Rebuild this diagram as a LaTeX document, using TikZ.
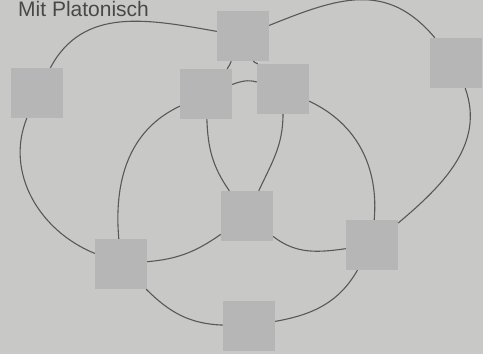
\documentclass[tikz,border=0pt]{standalone}
\usepackage{fontspec}
\setmainfont{Liberation Sans}
\usepackage{tikz}
\definecolor{pgBack}  {RGB}{200,201,199}
\definecolor{pgSquare}{RGB}{182,182,182}
\definecolor{pgLine}  {RGB}{ 88, 88, 88}
\definecolor{pgText}  {RGB}{ 72, 72, 72}

\begin{document}
\begin{tikzpicture}[
  x=1pt,y=1pt,
  every node/.style={font=\fontsize{21}{25}\selectfont},
  sq/.style={rectangle,fill=pgSquare,minimum width=52pt,minimum height=50pt,inner sep=0pt},
  ring/.style={line width=1.1pt,pgLine}
]
\useasboundingbox (0,0) rectangle (483,354);
\fill[pgBack] (0,0) rectangle (483,354);
\clip (0,0) rectangle (483,354);

\node[text=pgText,anchor=base west,inner sep=0pt] (title) at (18,337) {Mit Platonisch};

% squares
\node[sq] (top)  at (243,318) {};
\node[sq] (lft)  at ( 37,261) {};
\node[sq] (rgt)  at (456,291) {};
\node[sq] (inL)  at (206,260) {};
\node[sq] (inR)  at (283,265) {};
\node[sq] (mid)  at (247,138) {};
\node[sq] (botL) at (121, 90) {};
\node[sq] (botR) at (372,109) {};
\node[sq] (bot)  at (249, 28) {};

% left ring
\draw[ring] (lft) to[out=62,in=170,looseness=1.05] (top)
  to[out=-68,in=135] (inR)
  to[out=-90,in=65] (mid)
  to[out=215,in=5] (botL)
  to[out=158,in=-112] (lft);
% right ring
\draw[ring] (top) to[out=22,in=130,looseness=1.15] (rgt)
  to[out=-70,in=40] (botR)
  to[out=188,in=-38] (mid)
  to[out=125,in=-88] (inL)
  to[out=50,in=-115] (top);
% lower ring
\draw[ring] (inL) to[out=20,in=165] (inR)
  to[out=-25,in=85] (botR)
  to[out=-120,in=10] (bot)
  to[out=178,in=-45] (botL)
  to[out=95,in=-155] (inL);
\end{tikzpicture}
\end{document}
